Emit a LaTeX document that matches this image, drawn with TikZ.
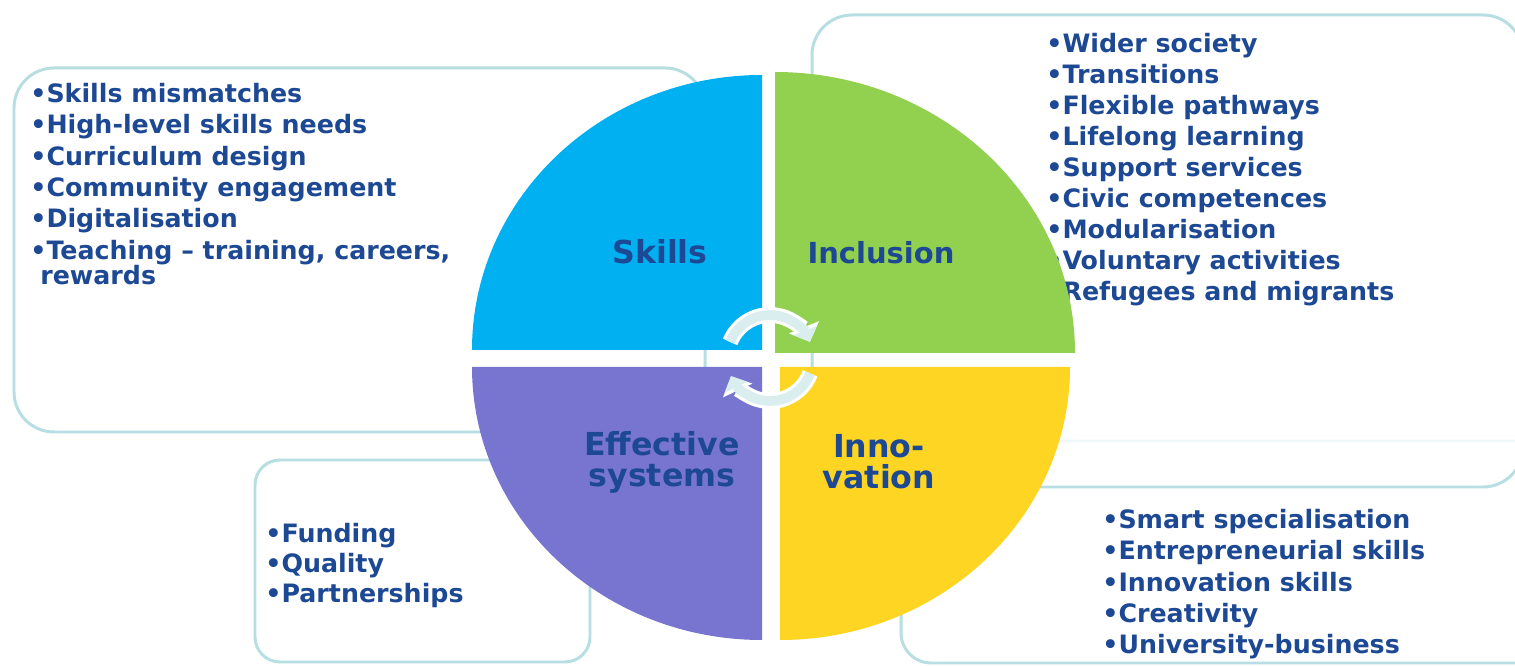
\documentclass[tikz,border=0pt]{standalone}
\usepackage{fontspec}
\setmainfont{DejaVu Sans}
\usetikzlibrary{arrows.meta}

\definecolor{skillsblue}{RGB}{0,176,240}
\definecolor{inclgreen}{RGB}{146,208,80}
\definecolor{innovyellow}{RGB}{254,213,35}
\definecolor{effpurple}{RGB}{120,117,208}
\definecolor{navy}{RGB}{28,72,148}
\definecolor{boxteal}{RGB}{183,222,226}
\definecolor{cyclefill}{RGB}{218,238,240}

\tikzset{
  topicbox/.style={draw=boxteal, line width=1.7pt, rounded corners=0.8cm},
  item/.style={font=\bfseries\fontsize{14.4}{17}\selectfont, text=navy, anchor=base west, inner sep=0pt},
  quad/.style={font=\bfseries\fontsize{18}{17.6}\selectfont, text=navy, align=center, inner sep=0pt},
  cycleedge/.style={white, line width=9pt, -{Triangle[length=9pt,width=18pt]}},
  cyclearc/.style={cyclefill, line width=5.5pt, -{Triangle[length=7pt,width=14pt]}}
}

\begin{document}
\begin{tikzpicture}[x=0.02cm, y=0.02cm]
    \useasboundingbox (0,0) rectangle (1515,666);
    \clip (0,0) rectangle (1515,666);

    % Boxes behind the circle
    \draw[topicbox] (14,234) rectangle (705,598);
    \draw[topicbox, rounded corners=0.5cm] (255,4) rectangle (590,206);
    \draw[topicbox, rounded corners=0.6cm] (901,3) rectangle (1545,225);
    \draw[topicbox, fill=white, fill opacity=0.8] (812,179) rectangle (1523,651);

    % Skills list
    \node[item] (s1) at (30,563) {\textbullet Skills mismatches};
    \node[item] (s2) at (30,532) {\textbullet High-level skills needs};
    \node[item] (s3) at (30,500) {\textbullet Curriculum design};
    \node[item] (s4) at (30,469) {\textbullet Community engagement};
    \node[item] (s5) at (30,438) {\textbullet Digitalisation};
    \node[item] (s6) at (30,406) {\textbullet Teaching – training, careers,};
    \node[item] (s7) at (40,381) {rewards};

    % Inclusion list
    \node[item] (i1) at (1046,613) {\textbullet Wider society};
    \node[item] (i2) at (1046,582) {\textbullet Transitions};
    \node[item] (i3) at (1046,551) {\textbullet Flexible pathways};
    \node[item] (i4) at (1046,520) {\textbullet Lifelong learning};
    \node[item] (i5) at (1046,489) {\textbullet Support services};
    \node[item] (i6) at (1046,458) {\textbullet Civic competences};
    \node[item] (i7) at (1046,427) {\textbullet Modularisation};
    \node[item] (i8) at (1046,396) {\textbullet Voluntary activities};
    \node[item] (i9) at (1046,365) {\textbullet Refugees and migrants};

    % Innovation list
    \node[item] (n1) at (1102,137) {\textbullet Smart specialisation};
    \node[item] (n2) at (1102,106) {\textbullet Entrepreneurial skills};
    \node[item] (n3) at (1102,74) {\textbullet Innovation skills};
    \node[item] (n4) at (1102,43) {\textbullet Creativity};
    \node[item] (n5) at (1102,12) {\textbullet University-business};

    % Effective systems list
    \node[item] (e1) at (265,123) {\textbullet Funding};
    \node[item] (e2) at (265,93) {\textbullet Quality};
    \node[item] (e3) at (265,63) {\textbullet Partnerships};

    % Quarters of the circle
    \fill[skillsblue] (762,316) -- (472,316) arc[start angle=180, end angle=90, x radius=290, y radius=275] -- cycle;
    \fill[inclgreen] (775,313) -- (775,594) arc[start angle=90, end angle=0, x radius=300, y radius=281] -- cycle;
    \fill[innovyellow] (780,299) -- (1070,299) arc[start angle=0, end angle=-90, x radius=290, y radius=273] -- cycle;
    \fill[effpurple] (762,299) -- (762,26) arc[start angle=270, end angle=180, x radius=290, y radius=273] -- cycle;

    % Quarter labels
    \node[quad] (skills) at (660,414) {Skills};
    \node[quad, font=\bfseries\fontsize{16.5}{17.6}\selectfont] (incl) at (881,413) {Inclusion};
    \node[quad] (eff) at (662,204) {Effective\\systems};
    \node[quad] (innov) at (879,204) {Inno-\\vation};

    % Cycle arrows in the middle
    \coordinate (hub) at (770,308);
    \draw[cycleedge] ([shift={(158:43)}]hub) arc[start angle=158, end angle=22, radius=43];
    \draw[cyclearc] ([shift={(158:43)}]hub) arc[start angle=158, end angle=22, radius=43];
    \draw[cycleedge] ([shift={(-21:43)}]hub) arc[start angle=-21, end angle=-155, radius=43];
    \draw[cyclearc] ([shift={(-21:43)}]hub) arc[start angle=-21, end angle=-155, radius=43];

\end{tikzpicture}
\end{document}
